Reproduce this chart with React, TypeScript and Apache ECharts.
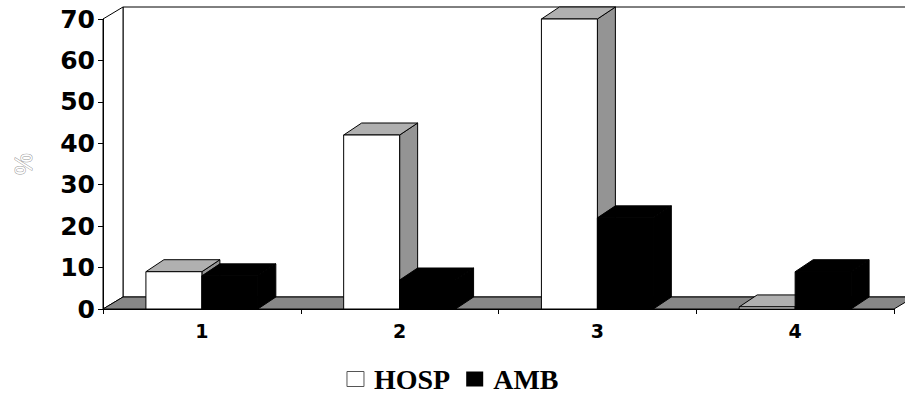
import React, { useEffect, useRef } from 'react';
import * as echarts from 'echarts';

const categories = ['1', '2', '3', '4'];
const hospValues = [9, 42, 70, 0.5];
const ambValues = [8, 7, 22, 9];
const seriesNames = ['HOSP', 'AMB'];
const yMin = 0;
const yMax = 70;
const yInterval = 10;

function barRenderer(slot: number, front: string, top: string, side: string, stroke: string) {
  return (params: any, api: any) => {
    const cat = api.value(0);
    const val = api.value(1);
    const band = api.size([1, 0])[0];
    const w = band * 0.283;
    const base = api.coord([cat, 0]);
    const tip = api.coord([cat, val]);
    const x = base[0] - w + slot * w;
    const y0 = base[1];
    const y1 = tip[1];
    const dx = 18;
    const dy = -12;
    return {
      type: 'group',
      children: [
        {
          type: 'polygon',
          shape: { points: [[x + w, y1], [x + w + dx, y1 + dy], [x + w + dx, y0 + dy], [x + w, y0]] },
          style: { fill: side, stroke, lineWidth: 1 },
        },
        {
          type: 'polygon',
          shape: { points: [[x, y1], [x + dx, y1 + dy], [x + w + dx, y1 + dy], [x + w, y1]] },
          style: { fill: top, stroke, lineWidth: 1 },
        },
        {
          type: 'rect',
          shape: { x, y: y1, width: w, height: y0 - y1 },
          style: { fill: front, stroke, lineWidth: 1 },
        },
      ],
    };
  };
}

function frameRenderer(params: any) {
  const cs = params.coordSys;
  const x = cs.x, y = cs.y, w = cs.width, h = cs.height;
  const dx = 20, dy = -12;
  return {
    type: 'group',
    children: [
      {
        type: 'rect',
        shape: { x: x + dx, y: y + dy, width: w, height: h },
        style: { fill: '#fff', stroke: '#000', lineWidth: 1 },
      },
      {
        type: 'polygon',
        shape: { points: [[x, y], [x + dx, y + dy], [x + dx, y + h + dy], [x, y + h]] },
        style: { fill: '#fff', stroke: '#000', lineWidth: 1 },
      },
      {
        type: 'polygon',
        shape: { points: [[x, y + h], [x + w, y + h], [x + w + dx, y + h + dy], [x + dx, y + h + dy]] },
        style: { fill: '#878787', stroke: '#000', lineWidth: 1 },
      },
    ],
  };
}

export default function App() {
  const ref = useRef<HTMLDivElement>(null);
  useEffect(() => {
    if (!ref.current) return;
    const chart = echarts.init(ref.current, null, { renderer: 'svg' });
    chart.setOption({
      animation: false,
      backgroundColor: '#fff',
      grid: { left: 103, right: 11, top: 19, bottom: 85, containLabel: false },
      legend: {
        data: [
          { name: seriesNames[0], icon: 'rect', itemStyle: { color: '#fff', borderColor: '#555', borderWidth: 1 } },
          { name: seriesNames[1], icon: 'rect', itemStyle: { color: '#000' } },
        ],
        left: 'center',
        top: 365,
        padding: 0,
        itemWidth: 17,
        itemHeight: 15,
        itemGap: 16,
        textStyle: {
          fontFamily: 'Liberation Serif',
          fontWeight: 'bold',
          fontSize: 28,
          color: '#000',
          padding: [0, 0, 0, 5],
        },
      },
      xAxis: {
        type: 'category',
        data: categories,
        z: 5,
        axisLine: { show: true, lineStyle: { color: '#000', width: 1 } },
        axisTick: { show: true, length: 5, lineStyle: { color: '#000' } },
        axisLabel: {
          fontFamily: 'DejaVu Sans',
          fontWeight: 'bold',
          fontSize: 19,
          color: '#000',
          margin: 12,
        },
        splitLine: { show: false },
      },
      yAxis: {
        type: 'value',
        min: yMin,
        max: yMax,
        interval: yInterval,
        z: 5,
        name: '%',
        nameLocation: 'middle',
        nameGap: 68,
        nameRotate: 90,
        nameTextStyle: {
          fontFamily: 'Liberation Sans',
          fontSize: 24,
          color: '#fff',
          textBorderColor: '#9a9a9a',
          textBorderWidth: 1,
        },
        axisLine: { show: true, lineStyle: { color: '#000', width: 1 } },
        axisTick: { show: true, length: 5, lineStyle: { color: '#000' } },
        axisLabel: {
          fontFamily: 'DejaVu Sans',
          fontWeight: 'bold',
          fontSize: 25,
          color: '#000',
          margin: 8,
        },
        splitLine: { show: false },
      },
      series: [
        {
          type: 'custom',
          name: 'frame',
          silent: true,
          z: 1,
          data: [[0, 0]],
          encode: { x: 0, y: 1 },
          renderItem: frameRenderer,
        },
        {
          type: 'custom',
          name: seriesNames[0],
          z: 2,
          itemStyle: { color: '#fff' },
          data: hospValues.map((v, i) => [i, v]),
          encode: { x: 0, y: 1 },
          renderItem: barRenderer(0, '#ffffff', '#b0b0b0', '#949494', '#000'),
        },
        {
          type: 'custom',
          name: seriesNames[1],
          z: 3,
          itemStyle: { color: '#000' },
          data: ambValues.map((v, i) => [i, v]),
          encode: { x: 0, y: 1 },
          renderItem: barRenderer(1, '#000000', '#000000', '#000000', '#000'),
        },
      ],
    });
    return () => chart.dispose();
  }, []);
  return (
    <div
      ref={ref}
      style={{ position: 'absolute', left: 0, top: 0, width: 905, height: 394 }}
    />
  );
}
